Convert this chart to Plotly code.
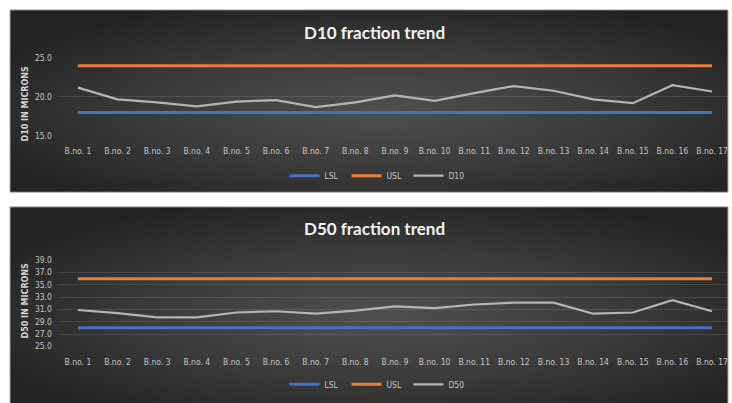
import base64
import plotly.graph_objects as go

# ---------------- data ----------------
batches = ["B.no. 1", "B.no. 2", "B.no. 3", "B.no. 4", "B.no. 5", "B.no. 6",
           "B.no. 7", "B.no. 8", "B.no. 9", "B.no. 10", "B.no. 11", "B.no. 12",
           "B.no. 13", "B.no. 14", "B.no. 15", "B.no. 16", "B.no. 17"]
d10 = [21.2, 19.7, 19.3, 18.8, 19.4, 19.6, 18.7, 19.3, 20.2, 19.5,
       20.5, 21.4, 20.8, 19.7, 19.2, 21.5, 20.7]
d10_lsl = [18.0] * 17
d10_usl = [24.0] * 17
d50 = [30.9, 30.4, 29.7, 29.7, 30.5, 30.7, 30.3, 30.8, 31.5, 31.2,
       31.8, 32.1, 32.1, 30.3, 30.5, 32.5, 30.7]
d50_lsl = [28.0] * 17
d50_usl = [36.0] * 17

BLUE = "#4472C4"
ORANGE = "#ED7D31"
GRAY = "#B4B4B4"
TICK = "#c4c4c4"
FONT = "Liberation Sans Narrow, DejaVu Sans Condensed, Roboto Condensed, Arial Narrow, Roboto, sans-serif"
W, H = 732, 403

def px(v):
    return v / W

def py(v):
    return 1 - v / H

fig = go.Figure()

def add_panel(xa, ya, leg, lsl, usl, series, name):
    fig.add_trace(go.Scatter(x=batches, y=lsl, name="LSL", mode="lines",
                             line=dict(color=BLUE, width=3), xaxis=xa, yaxis=ya,
                             legend=leg))
    fig.add_trace(go.Scatter(x=batches, y=usl, name="USL", mode="lines",
                             line=dict(color=ORANGE, width=3), xaxis=xa, yaxis=ya,
                             legend=leg))
    fig.add_trace(go.Scatter(x=batches, y=series, name=name, mode="lines",
                             line=dict(color=GRAY, width=2.2), xaxis=xa, yaxis=ya,
                             legend=leg))

add_panel("x", "y", "legend", d10_lsl, d10_usl, d10, "D10")
add_panel("x2", "y2", "legend2", d50_lsl, d50_usl, d50, "D50")

# background gradient for the dark panels
svg = ('<svg xmlns="http://www.w3.org/2000/svg" width="720" height="190" '
       'preserveAspectRatio="none" viewBox="0 0 720 190">'
       '<defs><radialGradient id="g" cx="0.52" cy="0.55" r="0.62">'
       '<stop offset="0" stop-color="#4f4f4f"/>'
       '<stop offset="0.55" stop-color="#3a3a3a"/>'
       '<stop offset="1" stop-color="#232323"/></radialGradient></defs>'
       '<rect width="720" height="190" fill="url(#g)"/></svg>')
src = "data:image/svg+xml;base64," + base64.b64encode(svg.encode()).decode()

panels = [(10, 729, 5, 192), (10, 729, 207, 410)]
images = []
shapes = []
for x0, x1, y0, y1 in panels:
    images.append(dict(source=src, xref="paper", yref="paper", x=px(x0), y=py(y0),
                       sizex=px(x1) - px(x0), sizey=py(y0) - py(y1),
                       xanchor="left", yanchor="top", sizing="stretch", layer="below"))
    shapes.append(dict(type="rect", xref="paper", yref="paper", x0=px(x0), x1=px(x1),
                       y0=py(y1), y1=py(y0), line=dict(color="#a8a8a8", width=1),
                       fillcolor="rgba(0,0,0,0)", layer="below"))

xdom = [px(58), px(728)]
xrange = [-0.504, 16.377]
common_x = dict(domain=xdom, range=xrange, showgrid=False, zeroline=False,
                showline=False, ticks="", ticklabelstandoff=9,
                tickfont=dict(family=FONT, size=8.5, color=TICK), fixedrange=True)
common_y = dict(showgrid=True, gridcolor="rgba(255,255,255,0.10)", gridwidth=1,
                zeroline=False, showline=False, ticks="", tickformat=".1f",
                ticklabelstandoff=5, tickfont=dict(family=FONT, size=8.5, color=TICK),
                fixedrange=True)

legend_common = dict(orientation="h", xanchor="center", yanchor="middle",
                     bgcolor="rgba(0,0,0,0)", itemwidth=30, entrywidth=17,
                     entrywidthmode="pixels",
                     font=dict(family=FONT, size=8.5, color=TICK))

fig.update_layout(
    width=W, height=H,
    margin=dict(l=0, r=0, t=0, b=0),
    paper_bgcolor="white", plot_bgcolor="rgba(0,0,0,0)",
    images=images, shapes=shapes,
    xaxis=dict(anchor="y", **common_x),
    yaxis=dict(anchor="x", domain=[py(134.3), py(54.3)], range=[15, 25], tick0=15,
               dtick=5, **common_y),
    xaxis2=dict(anchor="y2", **common_x),
    yaxis2=dict(anchor="x2", domain=[py(350), py(261.7)], range=[25, 39], tick0=25,
                dtick=2, **common_y),
    legend=dict(x=px(378), y=py(175), **legend_common),
    legend2=dict(x=px(378), y=py(389), **legend_common),
    annotations=[
        dict(text="D10 fraction trend", xref="paper", yref="paper", x=px(375),
             y=py(28), showarrow=False, xanchor="center", yanchor="middle",
             font=dict(family="Lato, Open Sans, sans-serif", size=17,
                       color="#f2f2f2", weight="bold")),
        dict(text="D50 fraction trend", xref="paper", yref="paper", x=px(375),
             y=py(229), showarrow=False, xanchor="center", yanchor="middle",
             font=dict(family="Lato, Open Sans, sans-serif", size=17,
                       color="#f2f2f2", weight="bold")),
        dict(text="D10 IN MICRONS", xref="paper", yref="paper", x=px(26),
             y=py(101), showarrow=False, textangle=-90, xanchor="center",
             yanchor="middle",
             font=dict(family="DejaVu Sans, sans-serif", size=8,
                       color="#d4d4d4", weight="bold")),
        dict(text="D50 IN MICRONS", xref="paper", yref="paper", x=px(26),
             y=py(303), showarrow=False, textangle=-90, xanchor="center",
             yanchor="middle",
             font=dict(family="DejaVu Sans, sans-serif", size=8,
                       color="#d4d4d4", weight="bold")),
    ],
)

fig.write_html("out.html")
